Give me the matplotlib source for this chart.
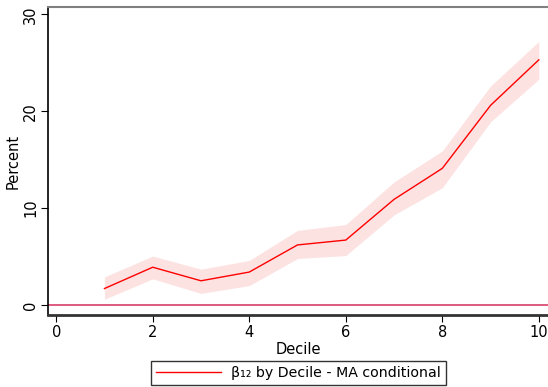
import matplotlib
matplotlib.use("Agg")
import matplotlib.pyplot as plt
import numpy as np

deciles = [1, 2, 3, 4, 5, 6, 7, 8, 9, 10]
estimate = [1.7, 3.9, 2.5, 3.4, 6.2, 6.7, 10.9, 14.1, 20.6, 25.3]
ci_upper = [2.9, 5.05, 3.7, 4.6, 7.7, 8.3, 12.7, 15.9, 22.6, 27.2]
ci_lower = [0.6, 2.7, 1.2, 2.0, 4.8, 5.1, 9.3, 12.1, 18.9, 23.3]
xticks = [0, 2, 4, 6, 8, 10]
yticks = [0, 10, 20, 30]
legend_label = "β₁₂ by Decile - MA conditional"

W, H = 548, 387
fig = plt.figure(figsize=(W / 100, H / 100), dpi=100)
ax = fig.add_axes([48 / W, 72 / H, 1 - 48 / W, 308 / H])

ax.fill_between(deciles, ci_lower, ci_upper, color="#fde2e2", linewidth=0)
line, = ax.plot(deciles, estimate, color="#ff0000", linewidth=1.0)
ax.axhline(0, color="#d8406a", linewidth=1.2)

ax.set_xlim(-0.17, 10.19)
ax.set_ylim(-1.03, 30.75)
ax.set_xticks(xticks)
ax.set_yticks(yticks)
ax.tick_params(axis="y", labelrotation=90, length=5, width=0.8, labelsize=10.5, pad=2)
ax.tick_params(axis="x", length=5, width=0.8, labelsize=10.5, pad=2)
for lab in ax.get_yticklabels():
    lab.set_va("center")

ax.spines["right"].set_visible(False)
ax.spines["top"].set_color("#808080")
ax.spines["top"].set_linewidth(1.5)
ax.spines["left"].set_color("#000000")
ax.spines["left"].set_linewidth(1.2)
ax.spines["bottom"].set_color("#333333")
ax.spines["bottom"].set_linewidth(2.0)

ax.set_xlabel("Decile", fontsize=10.5, labelpad=2)
ax.set_ylabel("Percent", fontsize=10.5, labelpad=2)

leg = fig.legend([line], [legend_label], loc="upper center",
                 bbox_to_anchor=(298.5 / W, 1 - 361 / H), fontsize=10.2,
                 frameon=True, fancybox=False, handlelength=4.6,
                 borderpad=0.35, handletextpad=0.7, borderaxespad=0)
leg.get_frame().set_edgecolor("#000000")
leg.get_frame().set_linewidth(1.0)

fig.savefig("out.png", dpi=100, facecolor="white")
